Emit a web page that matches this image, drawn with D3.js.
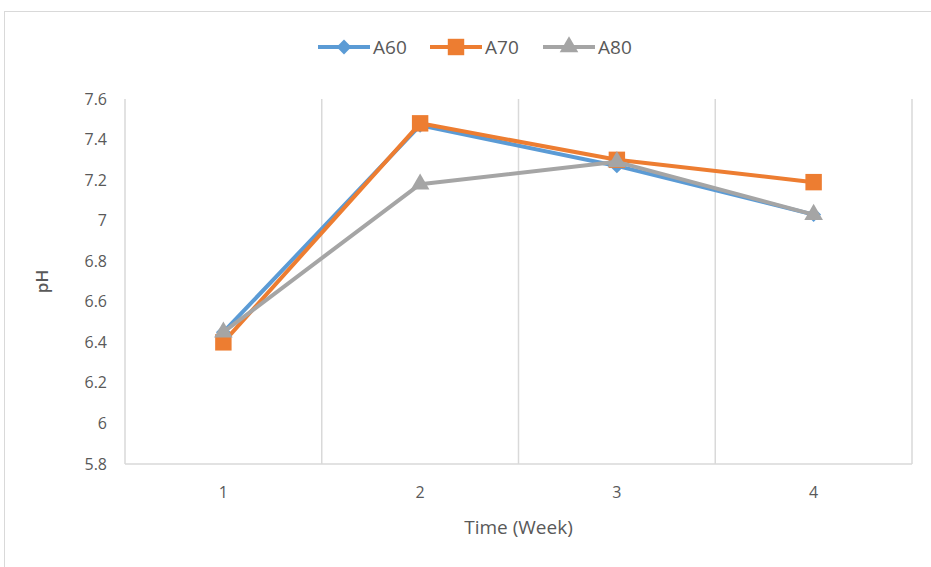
<!DOCTYPE html>
<head>
    <style>
        body {
            margin: 0;
            background: #fff;
            font-family: "Open Sans", sans-serif;
        }
        .tick-label {
            fill: #595959;
            font-size: 16px;
        }
        .axis-title {
            fill: #595959;
            font-size: 19px;
        }
        .legend text {
            fill: #595959;
            font-size: 19px;
        }
    </style>
    <script src="https://d3js.org/d3.v7.min.js"></script>
</head>
<body>
    <script>
        // data
        const weeks = ["1", "2", "3", "4"];
        const seriesNames = ["A60", "A70", "A80"];
        const a60 = [6.45, 7.47, 7.27, 7.03];
        const a70 = [6.40, 7.48, 7.30, 7.19];
        const a80 = [6.45, 7.18, 7.29, 7.03];
        const yTicks = [5.8, 6, 6.2, 6.4, 6.6, 6.8, 7, 7.2, 7.4, 7.6];

        const colors = ["#5B9BD5", "#ED7D31", "#A5A5A5"];
        const symbols = [d3.symbolSquare, d3.symbolSquare, d3.symbolTriangle];
        const symbolSizes = [110, 270, 150];
        const symbolRot = [45, 0, 0];

        const width = 931, height = 567;
        const plot = { left: 125, right: 912, top: 99, bottom: 464 };

        const svg = d3.select("body").append("svg")
            .attr("width", width)
            .attr("height", height);

        // chart border
        svg.append("rect")
            .attr("x", 4.5).attr("y", 11.5)
            .attr("width", 940).attr("height", 570)
            .attr("fill", "none")
            .attr("stroke", "#D9D9D9");

        const x = d3.scalePoint()
            .domain(weeks)
            .range([plot.left, plot.right])
            .padding(0.5);

        const y = d3.scaleLinear()
            .domain([5.8, 7.6])
            .range([plot.bottom, plot.top]);

        const step = x.step();

        // vertical gridlines at category boundaries
        const bounds = d3.range(weeks.length + 1).map(i => plot.left + i * step);
        svg.append("g").selectAll("line")
            .data(bounds)
            .join("line")
            .attr("x1", d => d).attr("x2", d => d)
            .attr("y1", plot.top).attr("y2", plot.bottom)
            .attr("stroke", "#D9D9D9")
            .attr("stroke-width", 1.5);

        // bottom axis line
        svg.append("line")
            .attr("x1", plot.left).attr("x2", plot.right)
            .attr("y1", plot.bottom).attr("y2", plot.bottom)
            .attr("stroke", "#D9D9D9")
            .attr("stroke-width", 1.5);

        // y tick labels
        svg.append("g").selectAll("text")
            .data(yTicks)
            .join("text")
            .attr("class", "tick-label")
            .attr("x", 107)
            .attr("y", d => y(d))
            .attr("dy", "0.35em")
            .attr("text-anchor", "end")
            .text(d => d3.format("~g")(d));

        // x tick labels
        svg.append("g").selectAll("text")
            .data(weeks)
            .join("text")
            .attr("class", "tick-label")
            .attr("x", d => x(d))
            .attr("y", 492)
            .attr("dy", "0.35em")
            .attr("text-anchor", "middle")
            .text(d => d);

        svg.append("text")
            .attr("class", "axis-title")
            .attr("x", (plot.left + plot.right) / 2)
            .attr("y", 527)
            .attr("dy", "0.35em")
            .attr("text-anchor", "middle")
            .text("Time (Week)");

        svg.append("text")
            .attr("class", "axis-title")
            .attr("transform", "translate(42," + ((plot.top + plot.bottom) / 2) + ") rotate(-90)")
            .attr("dy", "0.35em")
            .attr("text-anchor", "middle")
            .style("font-weight", "600")
            .style("font-size", "17px")
            .text("pH");

        const allSeries = [a60, a70, a80];
        const line = d3.line()
            .x((d, i) => x(weeks[i]))
            .y(d => y(d));

        allSeries.forEach((vals, s) => {
            const g = svg.append("g");
            g.append("path")
                .datum(vals)
                .attr("d", line)
                .attr("fill", "none")
                .attr("stroke", colors[s])
                .attr("stroke-width", 4)
                .attr("stroke-linejoin", "round");
            g.selectAll("path.mark")
                .data(vals)
                .join("path")
                .attr("class", "mark")
                .attr("transform", (d, i) => `translate(${x(weeks[i])},${y(d)}) rotate(${symbolRot[s]})`)
                .attr("d", d3.symbol().type(symbols[s]).size(symbolSizes[s]))
                .attr("fill", colors[s]);
        });

        // legend
        const legendX = [318, 430, 543];
        const legend = svg.append("g").attr("class", "legend");
        seriesNames.forEach((name, s) => {
            const lg = legend.append("g").attr("transform", `translate(${legendX[s]},47)`);
            lg.append("line")
                .attr("x1", 0).attr("x2", 52)
                .attr("stroke", colors[s])
                .attr("stroke-width", 4);
            lg.append("path")
                .attr("transform", `translate(26,0) rotate(${symbolRot[s]})`)
                .attr("d", d3.symbol().type(symbols[s]).size(symbolSizes[s]))
                .attr("fill", colors[s]);
            lg.append("text")
                .attr("x", 55)
                .attr("dy", "0.35em")
                .text(name);
        });
    </script>
</body>
